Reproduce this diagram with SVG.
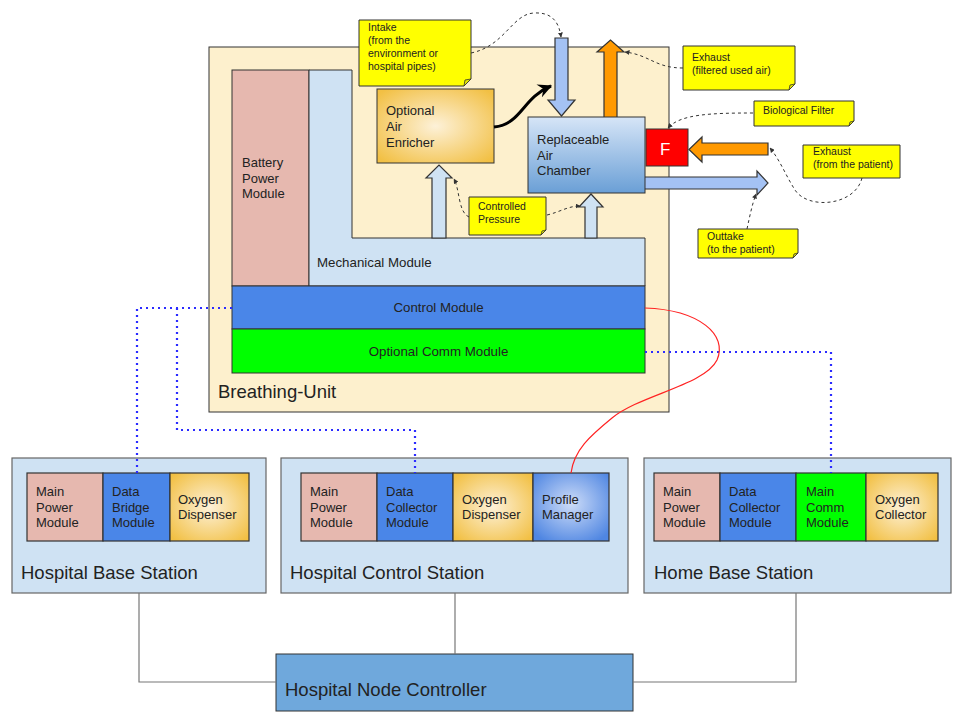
<svg xmlns="http://www.w3.org/2000/svg" width="961" height="721" viewBox="0 0 961 721">
<defs>
<style>
text{font-family:"Liberation Sans",Arial,sans-serif;fill:#222}
.box{stroke:#333;stroke-width:1}
.st{fill:#cfe2f3;stroke:#666;stroke-width:1.2}
.mod{stroke:#333;stroke-width:1.2}
.note{fill:#ffff00;stroke:#333;stroke-width:1}
.fold{fill:#e6e600;stroke:#333;stroke-width:0.8}
.nt{font-size:10.5px}
.mt{font-size:13px}
.lbl{font-size:18.5px}
.dash{fill:none;stroke:#333;stroke-width:1;stroke-dasharray:3 3}
.dot{fill:none;stroke:#2b2bff;stroke-width:2.2;stroke-dasharray:2 4}
.line{fill:none;stroke:#777;stroke-width:1.2}
.arr{stroke:#333;stroke-width:1.2}
</style>
<radialGradient id="yel" cx="50%" cy="50%" r="65%">
<stop offset="0" stop-color="#fdf1d8"/>
<stop offset="1" stop-color="#f2c044"/>
</radialGradient>
<radialGradient id="prof" cx="50%" cy="45%" r="65%">
<stop offset="0" stop-color="#cddcf8"/>
<stop offset="1" stop-color="#4f86e2"/>
</radialGradient>
<linearGradient id="cham" x1="0" y1="0" x2="0" y2="1">
<stop offset="0" stop-color="#d6e5f7"/>
<stop offset="1" stop-color="#6a9fd6"/>
</linearGradient>
<marker id="da" viewBox="0 0 10 10" refX="9" refY="5" markerWidth="5" markerHeight="5" markerUnits="userSpaceOnUse" orient="auto">
<path d="M0,0 L10,5 L0,10 z" fill="#333"/>
</marker>
<marker id="ba" viewBox="0 0 12 12" refX="11" refY="6" markerWidth="14" markerHeight="14" markerUnits="userSpaceOnUse" orient="auto">
<path d="M0,0 L12,6 L0,12 L4,6 z" fill="#000"/>
</marker>
</defs>

<g id="breathing-unit">
<rect x="209" y="47" width="460" height="365" fill="#fdf0cd" class="box"/>
<text x="218" y="398" class="lbl">Breathing-Unit</text>
</g>

<g id="battery-power-module">
<rect x="232" y="70" width="77" height="216" fill="#e6b8af" class="box"/>
<text class="mt"><tspan x="242" y="167">Battery</tspan><tspan x="242" y="182.5">Power</tspan><tspan x="242" y="198">Module</tspan></text>
</g>

<g id="mechanical-module">
<path d="M309,70 H352 V238 H645 V286 H309 Z" fill="#cfe2f3" class="box"/>
<text x="317" y="267" style="font-size:13.3px">Mechanical Module</text>
</g>

<g id="control-module">
<rect x="232" y="286" width="413" height="43" fill="#4a86e8" class="box"/>
<text x="438.5" y="312" text-anchor="middle" style="font-size:13.3px">Control Module</text>
</g>

<g id="optional-comm-module">
<rect x="232" y="329" width="413" height="44" fill="#00ff00" class="box"/>
<text x="438.5" y="356" text-anchor="middle" style="font-size:13.3px">Optional Comm Module</text>
</g>

<g id="arrows">
<polygon class="arr" fill="#a4c2f4" points="555,38 568,38 568,100 575,100 561.5,116 548,100 555,100"/>
<polygon class="arr" fill="#ff9900" points="604,118 604,52 597,52 610.5,40 624,52 617,52 617,118"/>
<polygon class="arr" fill="#ff9900" points="768,143 702,143 702,137 689,149.5 702,162 702,155 768,155"/>
<polygon class="arr" fill="#a4c2f4" points="640,177 757,177 757,171 768,183 757,195 757,189 640,189"/>
<polygon class="arr" fill="#cfe2f3" points="432,238 432,178 426,178 439,165 452,178 446,178 446,238"/>
<polygon class="arr" fill="#cfe2f3" points="585,238 585,207 579,207 591,194 603,207 597,207 597,238"/>
</g>

<g id="optional-air-enricher">
<rect x="377" y="89" width="117" height="74" fill="url(#yel)" class="box"/>
<text class="mt"><tspan x="386" y="115">Optional</tspan><tspan x="386" y="131">Air</tspan><tspan x="386" y="147">Enricher</tspan></text>
</g>

<g id="replaceable-air-chamber">
<rect x="528" y="117" width="117" height="76" fill="url(#cham)" class="box"/>
<text class="mt"><tspan x="537" y="144">Replaceable</tspan><tspan x="537" y="159.5">Air</tspan><tspan x="537" y="175">Chamber</tspan></text>
</g>

<g id="biological-filter">
<rect x="646" y="129" width="42" height="37" fill="#ff0000" class="box"/>
<text x="660" y="155" style="font-size:17px;fill:#fff">F</text>
</g>

<g id="note-intake">
<path class="note" d="M359,20 H471 V79 L464,86 H359 Z"/>
<path class="fold" d="M471,79 L464,86 L465,80 Z"/>
<text class="nt"><tspan x="368" y="31">Intake</tspan><tspan x="368" y="44">(from the</tspan><tspan x="368" y="57">environment or</tspan><tspan x="368" y="70">hospital pipes)</tspan></text>
</g>

<g id="note-exhaust-filtered">
<path class="note" d="M683,46 H795 V84 L789,90 H683 Z"/>
<path class="fold" d="M795,84 L789,90 L790,85 Z"/>
<text class="nt"><tspan x="692" y="61">Exhaust</tspan><tspan x="692" y="74">(filtered used air)</tspan></text>
</g>

<g id="note-biological-filter">
<path class="note" d="M754,101 H854 V121 L849,126 H754 Z"/>
<path class="fold" d="M854,121 L849,126 L850,122 Z"/>
<text x="763" y="114" class="nt">Biological Filter</text>
</g>

<g id="note-exhaust-patient">
<path class="note" d="M803,145 H900 V178 H803 Z"/>
<text class="nt"><tspan x="813" y="155">Exhaust</tspan><tspan x="813" y="168">(from the patient)</tspan></text>
</g>

<g id="note-outtake">
<path class="note" d="M698,229 H798 V253 L793,258 H698 Z"/>
<path class="fold" d="M798,253 L793,258 L794,254 Z"/>
<text class="nt"><tspan x="707" y="240">Outtake</tspan><tspan x="707" y="253">(to the patient)</tspan></text>
</g>

<g id="note-controlled-pressure">
<path class="note" d="M469,197 H546 V230 L541,235 H469 Z"/>
<path class="fold" d="M546,230 L541,235 L542,231 Z"/>
<text class="nt"><tspan x="478" y="210">Controlled</tspan><tspan x="478" y="222.5">Pressure</tspan></text>
</g>

<g id="hospital-base-station">
<rect x="12" y="458" width="254" height="135" class="st"/>
<rect x="27" y="473" width="76" height="68" fill="#e6b8af" class="mod"/>
<rect x="103" y="473" width="67" height="68" fill="#4a86e8" class="mod"/>
<rect x="170" y="473" width="79" height="68" fill="url(#yel)" class="mod"/>
<text class="mt"><tspan x="36" y="496">Main</tspan><tspan x="36" y="511.5">Power</tspan><tspan x="36" y="527">Module</tspan></text>
<text class="mt"><tspan x="112" y="496">Data</tspan><tspan x="112" y="511.5">Bridge</tspan><tspan x="112" y="527">Module</tspan></text>
<text class="mt"><tspan x="178" y="503.5">Oxygen</tspan><tspan x="178" y="519">Dispenser</tspan></text>
<text x="21" y="579" class="lbl">Hospital Base Station</text>
</g>

<g id="hospital-control-station">
<rect x="281" y="458" width="347" height="135" class="st"/>
<rect x="301" y="473" width="76" height="68" fill="#e6b8af" class="mod"/>
<rect x="377" y="473" width="76" height="68" fill="#4a86e8" class="mod"/>
<rect x="453" y="473" width="80" height="68" fill="url(#yel)" class="mod"/>
<rect x="533" y="473" width="76" height="68" fill="url(#prof)" class="mod"/>
<text class="mt"><tspan x="310" y="496">Main</tspan><tspan x="310" y="511.5">Power</tspan><tspan x="310" y="527">Module</tspan></text>
<text class="mt"><tspan x="386" y="496">Data</tspan><tspan x="386" y="511.5">Collector</tspan><tspan x="386" y="527">Module</tspan></text>
<text class="mt"><tspan x="462" y="503.5">Oxygen</tspan><tspan x="462" y="519">Dispenser</tspan></text>
<text class="mt"><tspan x="542" y="503.5">Profile</tspan><tspan x="542" y="519">Manager</tspan></text>
<text x="290" y="579" class="lbl">Hospital Control Station</text>
</g>

<g id="home-base-station">
<rect x="644" y="458" width="307" height="135" class="st"/>
<rect x="654" y="473" width="66" height="68" fill="#e6b8af" class="mod"/>
<rect x="720" y="473" width="76" height="68" fill="#4a86e8" class="mod"/>
<rect x="796" y="473" width="70" height="68" fill="#00ff00" class="mod"/>
<rect x="866" y="473" width="72" height="68" fill="url(#yel)" class="mod"/>
<text class="mt"><tspan x="663" y="496">Main</tspan><tspan x="663" y="511.5">Power</tspan><tspan x="663" y="527">Module</tspan></text>
<text class="mt"><tspan x="729" y="496">Data</tspan><tspan x="729" y="511.5">Collector</tspan><tspan x="729" y="527">Module</tspan></text>
<text class="mt"><tspan x="806" y="496">Main</tspan><tspan x="806" y="511.5">Comm</tspan><tspan x="806" y="527">Module</tspan></text>
<text class="mt"><tspan x="875" y="503.5">Oxygen</tspan><tspan x="875" y="519">Collector</tspan></text>
<text x="654" y="579" class="lbl">Home Base Station</text>
</g>

<g id="hospital-node-controller">
<rect x="276" y="654" width="357" height="57" fill="#6fa8dc" stroke="#333" stroke-width="1"/>
<text x="285" y="696" class="lbl">Hospital Node Controller</text>
</g>

<g id="connectors">
<path class="line" d="M139,593 V682 H276"/>
<path class="line" d="M455,593 V654"/>
<path class="line" d="M796,593 V682 H633"/>
<path class="dot" d="M232,308 H137 V473"/>
<path class="dot" d="M177,308 V430 H415 V473"/>
<path class="dot" d="M645,352 H831 V473"/>
<path d="M645,308 C700,310 728,335 717,360 C705,385 640,395 612,418 C590,436 574,450 571,473" fill="none" stroke="#ff2222" stroke-width="1.2"/>
<path d="M494,127 C522,124 522,98 551,86" fill="none" stroke="#000" stroke-width="3" marker-end="url(#ba)"/>
<path class="dash" d="M471,53 C505,46 512,14 534,13 C552,12 559,22 561,37" marker-end="url(#da)"/>
<path class="dash" d="M683,68 C655,68 650,55 625,52" marker-end="url(#da)"/>
<path class="dash" d="M753,113 C712,113 680,114 668,128" marker-end="url(#da)"/>
<path class="dash" d="M862,178 C855,206 808,210 795,190 C786,176 780,160 770,148" marker-end="url(#da)"/>
<path class="dash" d="M747,229 C750,215 752,205 756,194" marker-end="url(#da)"/>
<path class="dash" d="M469,217 C458,212 460,190 454,179" marker-end="url(#da)"/>
<path class="dash" d="M547,215 C560,212 568,206 580,206" marker-end="url(#da)"/>
</g>
</svg>
